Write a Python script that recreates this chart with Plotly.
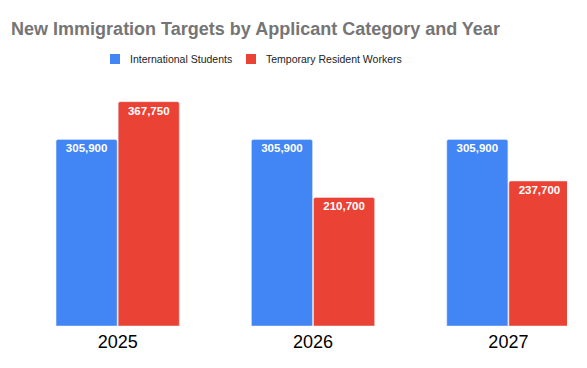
import plotly.graph_objects as go

years = ["2025", "2026", "2027"]
students = [305900, 305900, 305900]
workers = [367750, 210700, 237700]
series_names = ["International Students", "Temporary Resident Workers"]
series_colors = ["#4285F4", "#EA4335"]

FONT = "Arial, Liberation Sans, sans-serif"
W, H = 587, 368
ML, MR, MT, MB = 20, 20, 82, 42
PW, PH = W - ML - MR, H - MT - MB


def px_x(x):
    return (x - ML) / PW


def px_y(y):
    return (H - MB - y) / PH


fig = go.Figure()
for name, vals, col in zip(series_names, [students, workers], series_colors):
    fig.add_trace(go.Bar(
        x=years, y=vals, name=name,
        marker=dict(color=col, cornerradius=2),
        texttemplate="%{y:,}", textposition="inside", insidetextanchor="end",
        textangle=0, textfont=dict(color="white", size=11.5, family=FONT, weight="bold"),
        showlegend=False,
    ))

# custom legend (squares + labels) to match the reference spacing
legend_x = [110, 246]
legend_y = 59
for lx, name, col in zip(legend_x, series_names, series_colors):
    fig.add_shape(
        type="rect", xref="paper", yref="paper",
        x0=px_x(lx), x1=px_x(lx + 10), y0=px_y(legend_y + 5), y1=px_y(legend_y - 5),
        fillcolor=col, line=dict(width=0),
    )
    fig.add_annotation(
        text=name, xref="paper", yref="paper", x=px_x(lx + 18), y=px_y(legend_y),
        xanchor="left", yanchor="middle", showarrow=False,
        font=dict(size=10.5, color="#222222", family=FONT),
    )

fig.update_layout(
    width=W, height=H,
    margin=dict(l=ML, r=MR, t=MT, b=MB),
    paper_bgcolor="white", plot_bgcolor="white",
    barmode="group", bargap=0.364, bargroupgap=0.016,
    uniformtext=dict(minsize=11, mode="show"),
    font=dict(family=FONT, color="#222222"),
    title=dict(
        text="<b>New Immigration Targets by Applicant Category and Year</b>",
        font=dict(size=18, color="#757575", family=FONT),
        x=255.5 / W, xanchor="center", y=1 - 29 / H, yanchor="middle",
    ),
    showlegend=False,
)
fig.update_xaxes(
    type="category", range=[-0.5, 2.3],
    showgrid=False, showline=False, zeroline=False, ticks="",
    ticklabelstandoff=3,
    tickfont=dict(size=18, color="#000000", family=FONT),
)
fig.update_yaxes(
    range=[0, 400000], showgrid=False, showticklabels=False,
    zeroline=False, showline=False,
)

fig.write_html(
    "out.html",
    config={"displayModeBar": False},
    post_script="document.body.style.margin='0';",
)
